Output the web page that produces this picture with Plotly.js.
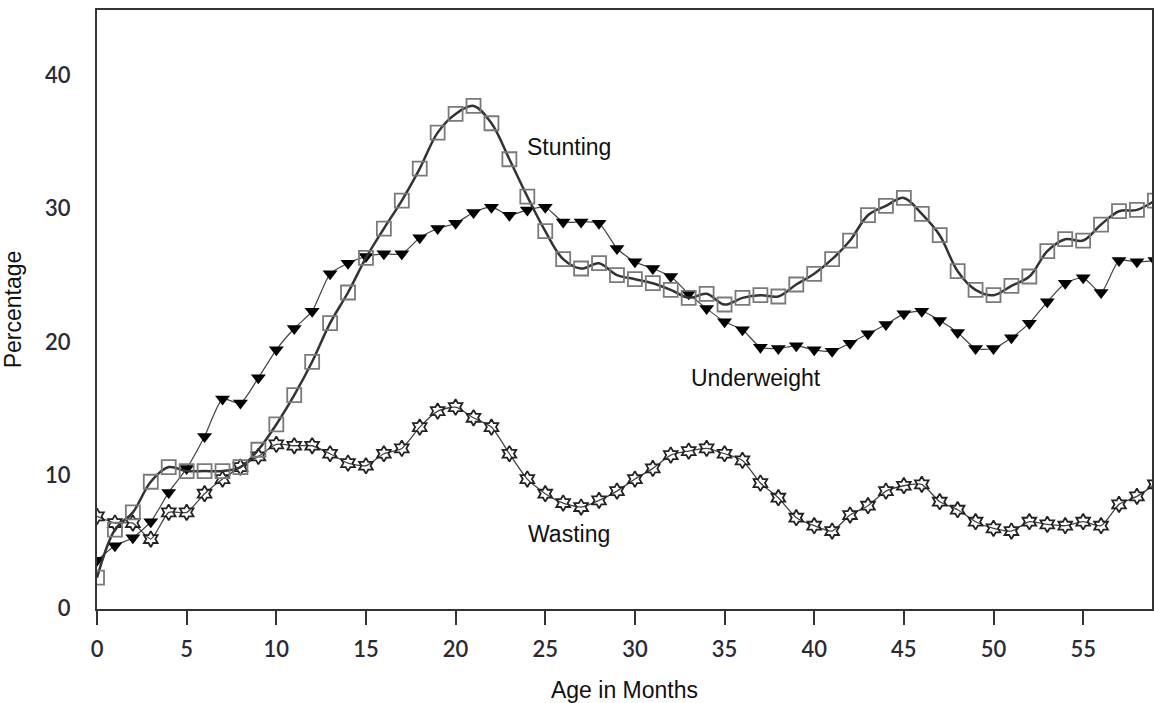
<!DOCTYPE html>
<html>
<head>
<meta charset="utf-8">
<script src="https://cdn.plot.ly/plotly-3.0.1.min.js"></script>
<style>html,body{margin:0;padding:0;background:#fff;}#chart{width:1154px;height:703px;}</style>
</head>
<body>
<div id="chart"></div>
<script>
const months = Array.from({length: 60}, (_, i) => i);

const stunting = [2.3, 5.9, 7.2, 9.5, 10.6, 10.3, 10.3, 10.3, 10.6, 11.9,
  13.8, 16.0, 18.5, 21.4, 23.7, 26.3, 28.5, 30.6, 33.0, 35.7,
  37.1, 37.7, 36.4, 33.7, 30.9, 28.3, 26.2, 25.5, 25.9, 25.0,
  24.7, 24.4, 23.9, 23.3, 23.6, 22.8, 23.3, 23.5, 23.4, 24.3,
  25.1, 26.2, 27.6, 29.5, 30.2, 30.8, 29.6, 28.0, 25.3, 23.9,
  23.5, 24.2, 24.9, 26.8, 27.7, 27.6, 28.8, 29.8, 29.9, 30.6];

const underweight = [3.6, 4.7, 5.3, 6.5, 8.7, 10.5, 12.9, 15.7, 15.4, 17.3,
  19.4, 21.0, 22.3, 25.1, 25.9, 26.4, 26.6, 26.6, 27.8, 28.5,
  28.9, 29.7, 30.1, 29.5, 29.9, 30.1, 29.0, 29.0, 28.9, 27.0,
  26.0, 25.5, 24.9, 23.6, 22.5, 21.5, 20.9, 19.6, 19.5, 19.7,
  19.4, 19.3, 19.9, 20.6, 21.3, 22.1, 22.3, 21.6, 20.7, 19.5,
  19.5, 20.3, 21.4, 23.0, 24.4, 24.8, 23.7, 26.1, 26.0, 26.1];

const wasting = [6.9, 6.4, 6.4, 5.2, 7.2, 7.2, 8.6, 9.7, 10.6, 11.4,
  12.3, 12.2, 12.2, 11.6, 10.9, 10.7, 11.6, 12.0, 13.6, 14.8,
  15.1, 14.3, 13.6, 11.6, 9.7, 8.6, 7.9, 7.6, 8.1, 8.8,
  9.7, 10.5, 11.5, 11.8, 12.0, 11.6, 11.1, 9.4, 8.3, 6.8,
  6.2, 5.8, 7.0, 7.7, 8.8, 9.2, 9.3, 8.0, 7.4, 6.5,
  6.0, 5.8, 6.5, 6.3, 6.2, 6.5, 6.2, 7.8, 8.4, 9.3];

const xTicks = [0, 5, 10, 15, 20, 25, 30, 35, 40, 45, 50, 55];
const yTicks = [0, 10, 20, 30, 40];
const labels = [
  {text: 'Stunting', x: 26.3, y: 34.6},
  {text: 'Underweight', x: 36.75, y: 17.3},
  {text: 'Wasting', x: 26.3, y: 5.6}
];

const textFont = 'Liberation Sans, Arial, sans-serif';
const tickFont = {family: 'Lato, sans-serif', size: 22, color: '#2a2a34', weight: 600};

const traces = [
  {
    x: months, y: wasting, type: 'scatter', mode: 'lines+markers',
    line: {color: '#444', width: 1.3, shape: 'spline', smoothing: 0.6},
    marker: {symbol: 'hexagram-open', size: 12, color: '#222', line: {color: '#222', width: 1.8}},
    showlegend: false
  },
  {
    x: months, y: underweight, type: 'scatter', mode: 'lines+markers',
    line: {color: '#444', width: 1.2, shape: 'spline', smoothing: 0.6},
    marker: {symbol: 'triangle-down', size: 13, color: '#000', line: {color: '#000', width: 0}},
    showlegend: false
  },
  {
    x: months, y: stunting, type: 'scatter', mode: 'lines+markers',
    line: {color: '#333', width: 2.5, shape: 'spline', smoothing: 1},
    marker: {symbol: 'square-open', size: 14, color: '#7a7a7a', line: {color: '#7a7a7a', width: 1.8}},
    showlegend: false
  }
];

const layout = {
  width: 1154, height: 703,
  margin: {l: 97, r: 2, t: 10, b: 94},
  paper_bgcolor: '#fff', plot_bgcolor: '#fff',
  xaxis: {
    range: [0, 58.84], tickvals: xTicks, ticktext: xTicks.map(String),
    ticks: 'outside', ticklen: 14, tickwidth: 2, tickcolor: '#333',
    showline: true, linecolor: '#333', linewidth: 2, mirror: true,
    showgrid: false, zeroline: false,
    tickfont: tickFont,
    ticklabelstandoff: 6,
    title: {text: 'Age in Months', font: {family: textFont, size: 23, color: '#111'}, standoff: 20}
  },
  yaxis: {
    range: [-0.05, 44.9], tickvals: yTicks, ticktext: yTicks.map(String),
    ticks: '', showline: true, linecolor: '#333', linewidth: 2, mirror: true,
    showgrid: false, zeroline: false,
    tickfont: tickFont,
    ticklabelstandoff: 20,
    title: {text: 'Percentage', font: {family: textFont, size: 23, color: '#111'}, standoff: 18}
  },
  annotations: labels.map(l => ({
    text: l.text, x: l.x, y: l.y, xref: 'x', yref: 'y', showarrow: false,
    font: {family: textFont, size: 23, color: '#111'}
  }))
};

Plotly.newPlot('chart', traces, layout, {displayModeBar: false, staticPlot: true});
</script>
</body>
</html>
